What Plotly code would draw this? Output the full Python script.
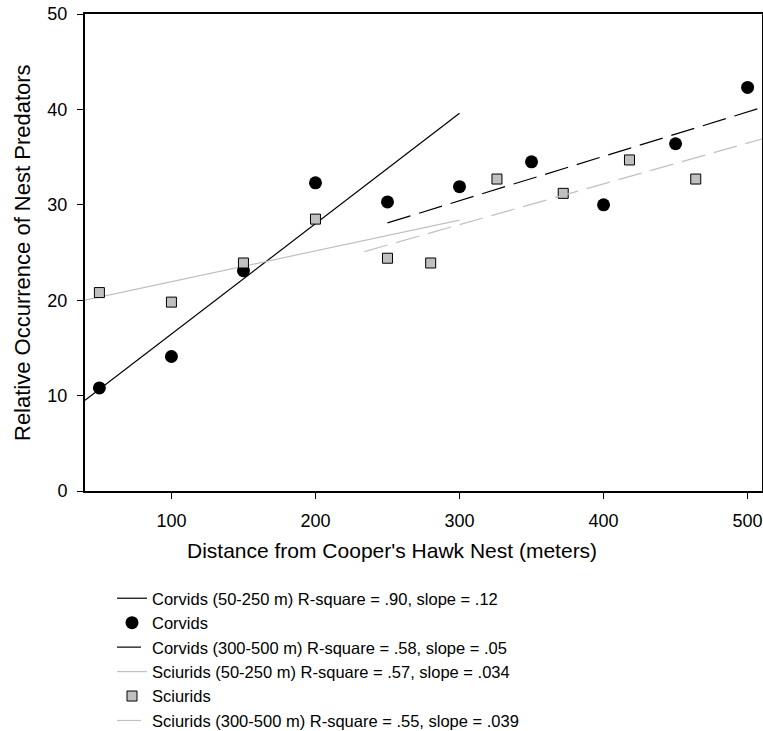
import plotly.graph_objects as go

# ---- data ----
corvid_x = [50, 100, 150, 200, 250, 300, 350, 400, 450, 500]
corvid_y = [10.8, 14.1, 23.1, 32.3, 30.3, 31.9, 34.5, 30.0, 36.4, 42.3]
sciurid_x = [50, 100, 150, 200, 250, 280, 326, 372, 418, 464]
sciurid_y = [20.8, 19.8, 23.9, 28.5, 24.4, 23.9, 32.7, 31.2, 34.7, 32.7]

corvid_fit1_x = [40, 300]
corvid_fit1_y = [9.5, 39.6]
corvid_fit2_x = [250, 510]
corvid_fit2_y = [28.1, 40.2]
sciurid_fit1_x = [40, 300]
sciurid_fit1_y = [20.0, 28.4]
sciurid_fit2_x = [234, 510]
sciurid_fit2_y = [25.1, 36.9]

names = [
    "Corvids (50-250 m) R-square = .90, slope = .12",
    "Corvids",
    "Corvids (300-500 m) R-square = .58, slope = .05",
    "Sciurids (50-250 m) R-square = .57, slope = .034",
    "Sciurids",
    "Sciurids (300-500 m) R-square = .55, slope = .039",
]

x_ticks = [100, 200, 300, 400, 500]
y_ticks = [0, 10, 20, 30, 40, 50]

FONT = "Arial, Liberation Sans, sans-serif"
GRAY = "#c0c0c0"

W, H = 763, 731

fig = go.Figure()
fig.add_trace(go.Scatter(x=corvid_fit1_x, y=corvid_fit1_y, mode="lines",
                         line=dict(color="black", width=1.2), name=names[0]))
fig.add_trace(go.Scatter(x=corvid_x, y=corvid_y, mode="markers",
                         marker=dict(symbol="circle", size=13, color="black"), name=names[1]))
fig.add_trace(go.Scatter(x=corvid_fit2_x, y=corvid_fit2_y, mode="lines",
                         line=dict(color="black", width=1.2, dash="24px,9px"), name=names[2]))
fig.add_trace(go.Scatter(x=sciurid_fit1_x, y=sciurid_fit1_y, mode="lines",
                         line=dict(color=GRAY, width=1.2), name=names[3]))
fig.add_trace(go.Scatter(x=sciurid_x, y=sciurid_y, mode="markers",
                         marker=dict(symbol="square", size=10, color=GRAY,
                                     line=dict(color="black", width=1)), name=names[4]))
fig.add_trace(go.Scatter(x=sciurid_fit2_x, y=sciurid_fit2_y, mode="lines",
                         line=dict(color=GRAY, width=1.2, dash="24px,9px"), name=names[5]))

fig.update_layout(
    width=W, height=H,
    margin=dict(l=85, r=1, t=14, b=H - 491, pad=0, autoexpand=False),
    paper_bgcolor="white", plot_bgcolor="white",
    font=dict(family=FONT, color="black"),
    showlegend=True,
    legend=dict(
        xref="container", yref="container",
        x=112 / W, y=1 - 581 / H, xanchor="left", yanchor="top",
        font=dict(size=16.5, family=FONT, color="black"),
        bgcolor="rgba(0,0,0,0)", borderwidth=0,
        tracegroupgap=0, itemwidth=30,
    ),
    xaxis=dict(
        range=[40, 510], tickvals=x_ticks, ticks="outside", ticklen=6, tickwidth=1,
        tickcolor="black", showline=True, linecolor="black", linewidth=2, mirror=True,
        showgrid=False, zeroline=False, tickfont=dict(size=18, family=FONT),
        ticklabelstandoff=6, ticklabeloverflow="allow",
    ),
    yaxis=dict(
        range=[0, 50], tickvals=y_ticks, ticks="outside", ticklen=6, tickwidth=1,
        tickcolor="black", showline=True, linecolor="black", linewidth=2, mirror=True,
        showgrid=False, zeroline=False, tickfont=dict(size=18, family=FONT),
        ticklabelstandoff=6, ticklabeloverflow="allow",
    ),
    annotations=[
        dict(text="Distance from Cooper's Hawk Nest (meters)", xref="paper", yref="paper",
             x=(392 - 85) / 677, y=(491 - 550) / 477, xanchor="center", yanchor="middle",
             showarrow=False, font=dict(size=21, family=FONT)),
        dict(text="Relative Occurrence of Nest Predators", xref="paper", yref="paper",
             x=(22.5 - 85) / 677, y=0.5, xanchor="center", yanchor="middle", textangle=-90,
             showarrow=False, font=dict(size=22, family=FONT)),
    ],
)

fig.write_html("out.html", config={"displayModeBar": False},
               post_script="document.body.style.margin='0';document.body.style.overflow='hidden';")
